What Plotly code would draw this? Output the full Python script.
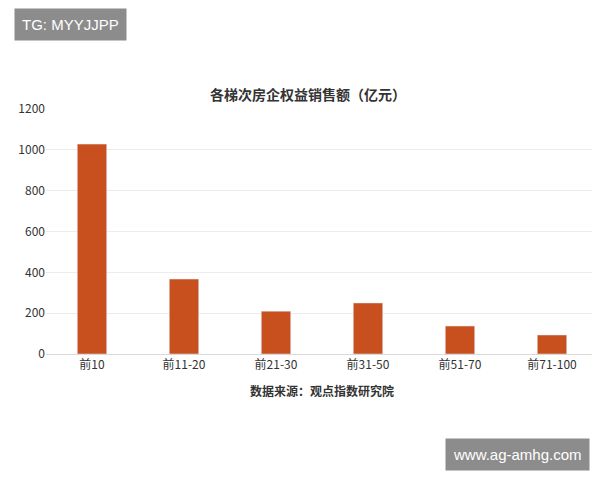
import plotly.graph_objects as go

categories = ["前10", "前11-20", "前21-30", "前31-50", "前51-70", "前71-100"]
values = [1028, 367, 210, 250, 137, 93]
yticks = [0, 200, 400, 600, 800, 1000, 1200]

font = "Noto Sans CJK SC"
fig = go.Figure(go.Bar(x=categories, y=values, marker_color="#C8501E", width=0.32))
fig.update_layout(
    width=600, height=480, paper_bgcolor="white", plot_bgcolor="white",
    margin=dict(l=34, r=10, t=101, b=134),
    showlegend=False,
    font=dict(family=font, size=12, color="#333"),
    title=dict(text="<b>各梯次房企权益销售额（亿元）</b>", x=0.5, xanchor="center", y=0.819, yanchor="middle",
               font=dict(size=14, color="#333", family=font)),
    xaxis=dict(showline=True, linecolor="#d9d9d9", ticks="", tickfont=dict(size=12)),
    yaxis=dict(range=[0, 1200], tickvals=yticks, gridcolor="#ececec", zeroline=False, tickfont=dict(size=12)),
)
fig.add_annotation(text="<b>数据来源：观点指数研究院</b>", x=0.5, y=-0.15, xref="paper", yref="paper",
                   showarrow=False, yanchor="middle", font=dict(size=12, color="#333"))
fig.add_annotation(text="TG: MYYJJPP", xref="paper", yref="paper", x=-0.0576, y=1.343, xanchor="left", yanchor="middle",
                   showarrow=False, bgcolor="#8c8c8c", font=dict(color="white", size=15, family="Liberation Sans"),
                   borderpad=7)
fig.add_annotation(text="www.ag-amhg.com", xref="paper", yref="paper", x=0.986, y=-0.412, xanchor="right", yanchor="middle",
                   showarrow=False, bgcolor="#8c8c8c", font=dict(color="white", size=15, family="Liberation Sans"),
                   borderpad=7)
fig.write_html("out.html")
